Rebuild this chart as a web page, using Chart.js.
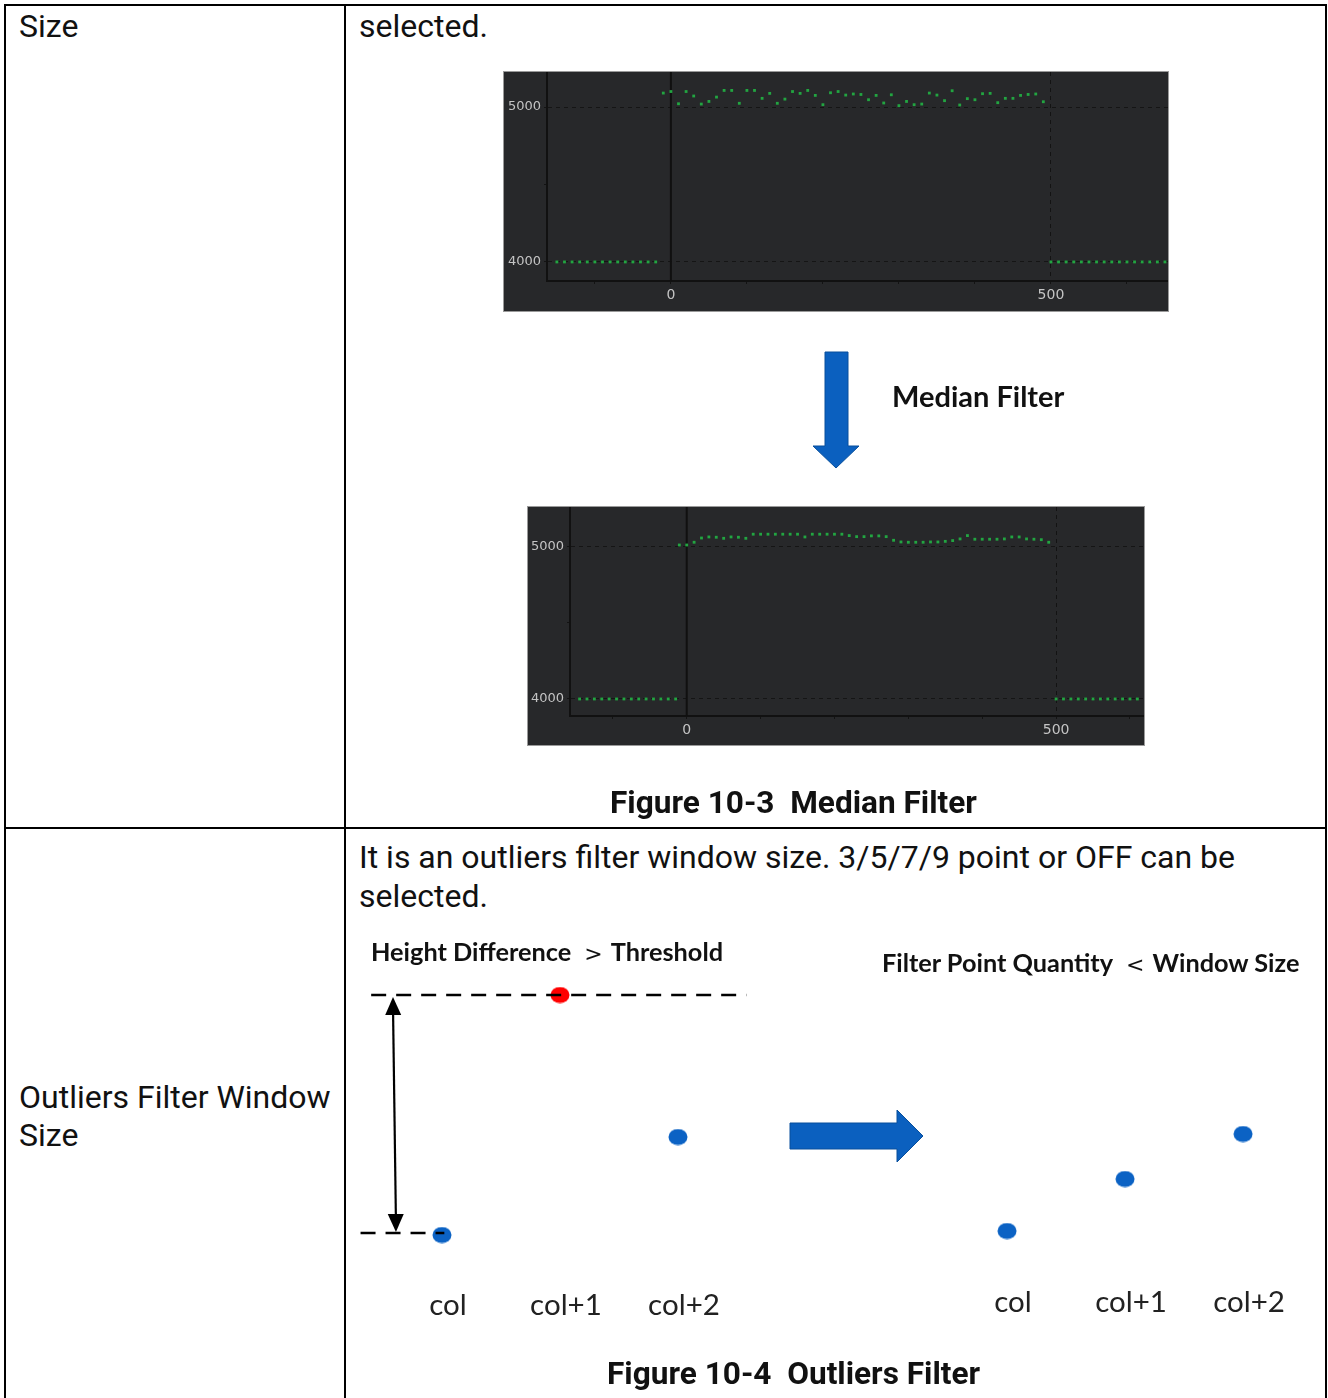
<!DOCTYPE html>
<html>
<head>
<meta charset="utf-8">
<script src="https://cdn.jsdelivr.net/npm/chart.js@4.4.0/dist/chart.umd.min.js"></script>
<style>
  body { margin: 0; background: #fff; width: 1328px; height: 1398px; overflow: hidden; position: relative; font-family: Roboto, sans-serif; color: #111; }
  .ln { position: absolute; background: #000; }
  .t { position: absolute; font-size: 32px; line-height: 39px; white-space: pre; }
  .cap { position: absolute; font-size: 31.6px; font-weight: bold; white-space: pre; line-height: 39px; }
  .lbl { position: absolute; font-family: Lato, sans-serif; font-weight: bold; font-size: 25.3px; white-space: pre; line-height: 30px; }
  .lbl .op { font-weight: normal; font-family: "DejaVu Sans", sans-serif; font-size: 22px; padding: 0 8px 0 13px; }
  canvas { position: absolute; }
  .dark { background: #27282a; outline: 1px solid #9a9a9a; }
</style>
</head>
<body>
<!-- table lines -->
<div class="ln" style="left:4px;top:4px;width:1323px;height:2px"></div>
<div class="ln" style="left:4px;top:4px;width:2px;height:1394px"></div>
<div class="ln" style="left:344px;top:4px;width:2px;height:1394px"></div>
<div class="ln" style="left:1325px;top:4px;width:2px;height:1394px"></div>
<div class="ln" style="left:4px;top:827px;width:1323px;height:2px"></div>

<div class="t" style="left:19px;top:7px">Size</div>
<div class="t" style="left:359px;top:7px">selected.</div>
<div class="t" style="left:19px;top:1078px">Outliers Filter Window</div>
<div class="t" style="left:19px;top:1116px">Size</div>
<div class="t" style="left:359px;top:838px">It is an outliers filter window size. 3/5/7/9 point or OFF can be</div>
<div class="t" style="left:359px;top:877px">selected.</div>

<canvas id="before" class="dark" width="664" height="239" style="left:504px;top:72px"></canvas>
<canvas id="after" class="dark" width="616" height="238" style="left:528px;top:507px"></canvas>

<svg width="1328" height="1398" style="position:absolute;left:0;top:0;pointer-events:none">
  <polygon points="825,352 848,352 848,446 859,446 836,468 813,446 825,446" fill="#0b60bf" stroke="#084f9c" stroke-width="1"/>
  <polygon points="790,1123 897,1123 897,1110 923,1136 897,1162 897,1149 790,1149" fill="#0b60bf" stroke="#084f9c" stroke-width="1"/>
</svg>
<div class="lbl" style="left:892px;top:379px;font-size:29px;line-height:34px">Median Filter</div>
<div class="cap" style="left:610px;top:783px">Figure 10-3  Median Filter</div>

<div class="lbl" style="left:371px;top:936px">Height Difference<span class="op">&gt;</span>Threshold</div>
<div class="lbl" style="left:882px;top:947px">Filter Point Quantity<span class="op">&lt;</span>Window Size</div>

<canvas id="outLeft" width="405" height="350" style="left:355px;top:980px"></canvas>
<canvas id="outRight" width="375" height="350" style="left:940px;top:980px"></canvas>

<div class="cap" style="left:607px;top:1354px">Figure 10-4  Outliers Filter</div>

<script>
// ---- Figure 10-3: profile before / after median filter ----
const beforeLeftX = [-150, -140, -130, -120, -110, -100, -90, -80, -70, -60, -50, -40, -30, -20];
const beforeLeftZ = [4000, 4000, 4000, 4000, 4000, 4000, 4000, 4000, 4000, 4000, 4000, 4000, 4000, 4000];
const midX = [-10, 0, 10, 20, 30, 40, 50, 60, 70, 80, 90, 100, 110, 120, 130, 140, 150, 160, 170, 180,
  190, 200, 210, 220, 230, 240, 250, 260, 270, 280, 290, 300, 310, 320, 330, 340, 350, 360, 370, 380,
  390, 400, 410, 420, 430, 440, 450, 460, 470, 480, 490];
const beforeMidZ = [5090, 5100, 5021, 5100, 5071, 5019, 5036, 5064, 5107, 5107, 5024, 5107, 5107, 5056, 5088,
  5024, 5051, 5100, 5088, 5107, 5075, 5015, 5092, 5100, 5077, 5084, 5081, 5047, 5075, 5026, 5079, 5009,
  5036, 5015, 5019, 5090, 5077, 5041, 5105, 5013, 5054, 5047, 5086, 5088, 5028, 5056, 5056, 5075, 5081,
  5084, 5034];
const beforeRightX = [500, 510, 520, 530, 540, 550, 560, 570, 580, 590, 600, 610, 620, 630, 640, 650];
const beforeRightZ = [4000, 4000, 4000, 4000, 4000, 4000, 4000, 4000, 4000, 4000, 4000, 4000, 4000, 4000, 4000, 4000];

const afterLeftX = [-145, -135, -125, -115, -105, -95, -85, -75, -65, -55, -45, -35, -25, -15];
const afterLeftZ = [4000, 4000, 4000, 4000, 4000, 4000, 4000, 4000, 4000, 4000, 4000, 4000, 4000, 4000];
const afterMidZ = [5013, 5013, 5031, 5059, 5066, 5064, 5057, 5066, 5064, 5057, 5084, 5084, 5084, 5084, 5084,
  5084, 5084, 5066, 5084, 5084, 5084, 5084, 5084, 5075, 5068, 5068, 5073, 5073, 5068, 5044, 5033, 5031,
  5031, 5031, 5033, 5033, 5037, 5042, 5053, 5075, 5051, 5051, 5051, 5051, 5053, 5066, 5066, 5053, 5051,
  5048, 5031];
const afterRightX = [500, 510, 520, 530, 540, 550, 560, 570, 580, 590, 600, 610];
const afterRightZ = [4000, 4000, 4000, 4000, 4000, 4000, 4000, 4000, 4000, 4000, 4000, 4000];

const xTicks = [-100, 0, 100, 200, 300, 400, 500, 600];
const xLabels = [0, 500];
const yTicks = [4000, 4500, 5000];
const yLabels = [4000, 5000];

// ---- Figure 10-4: outliers filter ----
const colNames = ['col', 'col+1', 'col+2'];
const heightsBefore = [35, 275, 133];
const heightsAfter = [39, 91, 136];
const pointColorsBefore = ['#0b62c4', '#ff0000', '#0b62c4'];
const pointColorsAfter = ['#0b62c4', '#0b62c4', '#0b62c4'];
const thresholdTop = [{ x: -0.6, y: 275 }, { x: 2.58, y: 275 }];
const thresholdBottom = [{ x: -0.69, y: 37 }, { x: 0.02, y: 37 }];
const diffArrow = [{ x: -0.415, y: 273 }, { x: -0.39, y: 38 }];

const pts = (xs, ys) => xs.map((x, i) => ({ x, y: ys[i] }));

// slightly flattened dots, like the drawing
function dot(color) {
  const c = document.createElement('canvas');
  c.width = 20; c.height = 17;
  const g = c.getContext('2d');
  g.fillStyle = color;
  g.beginPath();
  g.ellipse(10, 8.5, 9.5, 8, 0, 0, Math.PI * 2);
  g.fill();
  return c;
}

// solid line at x = 0 like the reference's origin line
const zeroLine = {
  id: 'zeroLine',
  beforeDatasetsDraw(chart) {
    const { ctx, chartArea, scales } = chart;
    const px = scales.x.getPixelForValue(0);
    ctx.save();
    ctx.strokeStyle = '#101010';
    ctx.lineWidth = 2;
    ctx.beginPath();
    ctx.moveTo(px, chartArea.top);
    ctx.lineTo(px, chartArea.bottom);
    ctx.stroke();
    ctx.restore();
  }
};

function profileChart(id, sets, xMin, xMax, yMin, yMax, axisW, axisH) {
  const green = '#22a541';
  return new Chart(document.getElementById(id), {
    type: 'scatter',
    data: {
      datasets: sets.map(s => ({
        data: s,
        pointStyle: 'rect',
        pointRadius: 2,
        pointBorderWidth: 0,
        backgroundColor: green,
        borderColor: green
      }))
    },
    options: {
      responsive: false,
      animation: false,
      layout: { padding: 0, autoPadding: false },
      plugins: { legend: { display: false }, tooltip: { enabled: false } },
      scales: {
        x: {
          type: 'linear', min: xMin, max: xMax,
          afterFit: s => { s.height = axisH; s.paddingLeft = 0; s.paddingRight = 0; },
          afterBuildTicks: s => { s.ticks = xTicks.map(v => ({ value: v })); },
          ticks: {
            autoSkip: false, maxRotation: 0,
            color: '#c4c4c4', padding: 3,
            font: { family: 'DejaVu Sans', size: 14 },
            callback: v => xLabels.includes(v) ? String(v) : ''
          },
          grid: {
            color: c => c.tick && c.tick.value === 500 ? '#131313' : 'rgba(0,0,0,0)',
            tickColor: '#131313', tickLength: 3
          },
          border: { color: '#111', width: 2, dash: [4, 4] }
        },
        y: {
          type: 'linear', min: yMin, max: yMax,
          afterFit: s => { s.width = axisW; s.paddingTop = 0; s.paddingBottom = 0; },
          afterBuildTicks: s => { s.ticks = yTicks.map(v => ({ value: v })); },
          ticks: {
            autoSkip: false, color: '#c4c4c4', padding: 3,
            font: { family: 'DejaVu Sans', size: 13 },
            callback: v => yLabels.includes(v) ? String(v) : ''
          },
          grid: {
            color: c => c.tick && yLabels.includes(c.tick.value) ? '#151515' : 'rgba(0,0,0,0)',
            tickColor: '#131313', tickLength: 3
          },
          border: { color: '#111', width: 2, dash: [4, 4] }
        }
      }
    },
    plugins: [zeroLine]
  });
}

profileChart('before',
  [pts(beforeLeftX, beforeLeftZ), pts(midX, beforeMidZ), pts(beforeRightX, beforeRightZ)],
  -163, 654, 3877, 5226, 43, 30);
profileChart('after',
  [pts(afterLeftX, afterLeftZ), pts(midX, afterMidZ), pts(afterRightX, afterRightZ)],
  -158, 619, 3888, 5263, 42, 29);

// double headed arrow for the height difference
const heightArrow = {
  id: 'heightArrow',
  afterDatasetsDraw(chart) {
    const { ctx, scales } = chart;
    const x1 = scales.x.getPixelForValue(diffArrow[0].x), y1 = scales.y.getPixelForValue(diffArrow[0].y);
    const x2 = scales.x.getPixelForValue(diffArrow[1].x), y2 = scales.y.getPixelForValue(diffArrow[1].y);
    const ang = Math.atan2(y2 - y1, x2 - x1);
    const head = (x, y, a) => {
      ctx.beginPath();
      ctx.moveTo(x, y);
      ctx.lineTo(x - 18 * Math.cos(a) + 8 * Math.sin(a), y - 18 * Math.sin(a) - 8 * Math.cos(a));
      ctx.lineTo(x - 18 * Math.cos(a) - 8 * Math.sin(a), y - 18 * Math.sin(a) + 8 * Math.cos(a));
      ctx.closePath();
      ctx.fill();
    };
    ctx.save();
    ctx.strokeStyle = '#000';
    ctx.fillStyle = '#000';
    ctx.lineWidth = 2.2;
    ctx.beginPath();
    ctx.moveTo(x1, y1 + 10);
    ctx.lineTo(x2, y2 - 10);
    ctx.stroke();
    head(x2, y2, ang);
    head(x1, y1, ang + Math.PI);
    ctx.restore();
  }
};

function outlierChart(id, heights, colors, xMin, xMax, labelPad, extra, plugins) {
  const dashed = (d) => ({
    type: 'line', data: d, order: 0, showLine: true,
    borderColor: '#000', borderWidth: 2.5, borderDash: [15, 10], pointRadius: 0, fill: false
  });
  return new Chart(document.getElementById(id), {
    type: 'scatter',
    data: {
      datasets: [
        ...extra.map(dashed),
        {
          data: heights.map((h, i) => ({ x: i, y: h })),
          order: 1,
          pointStyle: colors.map(dot),
          pointRadius: 9,
          backgroundColor: colors,
          borderColor: colors
        }
      ]
    },
    options: {
      responsive: false,
      animation: false,
      layout: { padding: 0, autoPadding: false },
      plugins: { legend: { display: false }, tooltip: { enabled: false } },
      scales: {
        x: {
          type: 'linear', min: xMin, max: xMax,
          afterFit: s => { s.height = 60; },
          afterBuildTicks: s => { s.ticks = colNames.map((n, i) => ({ value: i })); },
          ticks: {
            autoSkip: false, maxRotation: 0, labelOffset: 6, padding: labelPad,
            color: '#222', font: { family: 'Lato', size: 29.5 },
            callback: v => colNames[v]
          },
          grid: { display: false, drawTicks: false },
          border: { display: false }
        },
        y: { display: false, min: 0, max: 290 }
      }
    },
    plugins: plugins
  });
}

outlierChart('outLeft', heightsBefore, pointColorsBefore, -0.737, 2.695, 18, [thresholdTop, thresholdBottom], [heightArrow]);
outlierChart('outRight', heightsAfter, pointColorsAfter, -0.568, 2.61, 15, [], []);
</script>
</body>
</html>
